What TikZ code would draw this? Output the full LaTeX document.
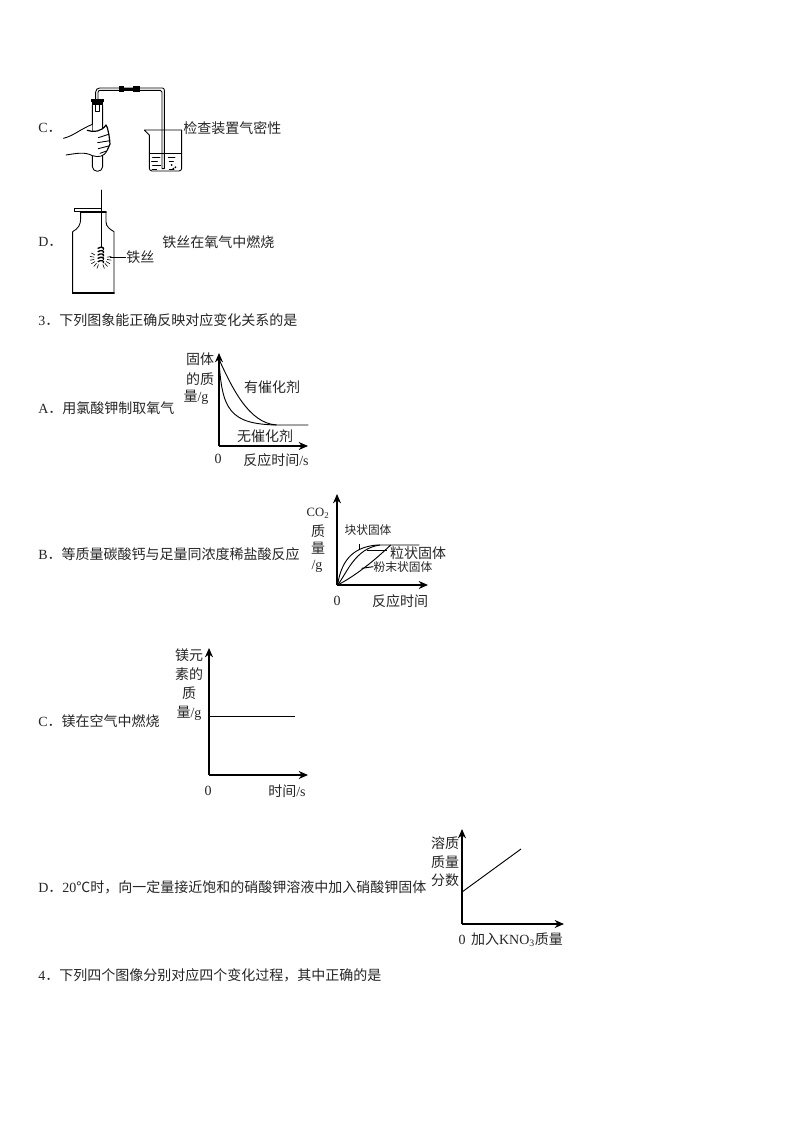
\documentclass[tikz,border=0pt]{standalone}
\usepackage{fontspec}
\setmainfont{Liberation Serif}
\newfontfamily\cjk{Noto Sans CJK SC}[Scale=1]
\newcommand{\lat}[1]{{\rmfamily #1}}
\usetikzlibrary{arrows.meta}
\tikzset{
  txt/.style={font=\cjk\fontsize{10.5pt}{12pt}\selectfont,inner sep=0pt,anchor=west,text=black!85},
  lab/.style={font=\cjk\fontsize{10.5pt}{12pt}\selectfont,inner sep=0pt,text=black!85},
  small/.style={font=\cjk\fontsize{8.8pt}{10pt}\selectfont,inner sep=0pt,text=black!85},
  axis/.style={line width=0.8pt,-{Stealth[length=7pt,width=6pt]}},
  curve/.style={line width=0.7pt},
  appar/.style={line width=0.65pt,line join=round,line cap=round},
  zoomA/.style={shift={(30,70)},x=0.25pt,y=-0.25pt},
  zoomB/.style={shift={(30,190)},x=0.25pt,y=-0.25pt},
  zoomC/.style={shift={(170,340)},x=0.25pt,y=-0.25pt},
  zoomD/.style={shift={(300,485)},x=0.25pt,y=-0.25pt}
}
\begin{document}
\begin{tikzpicture}[x=0.75pt,y=-0.75pt]
\useasboundingbox[fill=white] (0,0) rectangle (794,1123);
% body text
\node[txt] (optC) at (38,128) {\lat{C}．};
\node[txt] (capC) at (183,128) {检查装置气密性};
\node[txt] (optD) at (38,242) {\lat{D}．};
\node[txt] (capD) at (162,242) {铁丝在氧气中燃烧};
\node[txt] (wire) at (126,257) {铁丝};
\node[txt] (q3) at (38,320) {\lat{3}．下列图象能正确反映对应变化关系的是};
\node[txt] (a3) at (38,408) {\lat{A}．用氯酸钾制取氧气};
\node[txt] (b3) at (38,554) {\lat{B}．等质量碳酸钙与足量同浓度稀盐酸反应};
\node[txt] (c3) at (38,721) {\lat{C}．镁在空气中燃烧};
\node[txt] (d3) at (38,887) {\lat{D}．\lat{20}℃时，向一定量接近饱和的硝酸钾溶液中加入硝酸钾固体};
\node[txt] (q4) at (38,975) {\lat{4}．下列四个图像分别对应四个变化过程，其中正确的是};
% apparatus C
\begin{scope}[zoomA,appar]
  \draw (187,106) -- (187,290) arc[start angle=180,end angle=0,x radius=15.5,y radius=14] -- (218,106);
  \fill[black] (183,88) rectangle (222,96);
  \fill[black] (186,98) rectangle (219,106);
  \draw (187,96) -- (218,96);
  \draw (197,106) -- (197,125) -- (207,125) -- (207,106);
  \draw (197,88) -- (197,66) arc[start angle=180,end angle=270,radius=12] -- (397,54)
        arc[start angle=270,end angle=360,radius=6] -- (403,296) -- (396,296) -- (396,66)
        arc[start angle=0,end angle=-90,radius=5] -- (210,61)
        arc[start angle=-90,end angle=-180,radius=6] -- (204,88);
  \fill[black] (267,49) rectangle (283,66);
  \fill[black] (309,49) rectangle (331,66);
  \draw[line width=1.4pt] (283,57) -- (309,57);
  % beaker
  \draw (343,180) -- (358,195) -- (358,295) arc[start angle=180,end angle=90,radius=8] -- (447,303)
        arc[start angle=90,end angle=0,radius=8] -- (455,180) -- cycle;
  \draw (358,250) -- (455,250);
  \foreach \yy/\xa/\xb in {262/368/390,274/365/382,286/368/392,298/366/380,262/415/435,274/418/430,298/418/432}
    \draw (\xa,\yy) -- (\xb,\yy);
  \fill (425,285) circle (3); \fill (436,292) circle (3); \fill (430,296) circle (3);
  % hand
  \fill[white] (172,170) -- (187,163) -- (187,183) .. controls (200,186) and (218,184) .. (228,165) .. controls (235,175) and (233,185) .. (237,195) -- (240,222) -- (232,240) .. controls (222,262) and (205,262) .. (187,257) -- (172,250) -- cycle;
  \draw (100,205) .. controls (130,198) and (150,178) .. (187,163);
  \draw (108,255) .. controls (140,250) and (165,245) .. (187,257) .. controls (205,262) and (222,262) .. (232,240);
  \draw[line width=0.9pt] (172,181) .. controls (190,188) and (215,185) .. (228,165) .. controls (235,175) and (233,185) .. (237,195) -- (240,222) -- (232,240);
  \draw (205,203) -- (236,193);
  \draw (203,218) -- (240,212);
  \draw (205,236) -- (236,228);
  \draw (210,250) -- (230,243);
\end{scope}
% apparatus D
\begin{scope}[zoomB,appar]
  \draw (133,55) rectangle (215,65);
  \draw[line width=1.3pt] (152,67) -- (228,67);
  \draw (152,67) -- (152,85) .. controls (152,105) and (145,115) .. (128,125) -- (128,310);
  \draw (228,67) -- (228,95) .. controls (228,110) and (240,118) .. (252,125) -- (252,310);
  \draw[line width=1.2pt] (128,309) -- (252,309);
  \draw (213,0) -- (213,170);
  \foreach \yy in {172,182,192,202,212}
    \draw[line width=1pt] (204,\yy+3) .. controls (212,\yy-3) and (224,\yy) .. (220,\yy+6);
  \foreach \ang in {-10,10,30,50,70,110,130,150,170,190,210}
    \draw[line width=0.45pt] ({212+20*cos(\ang)},{205+20*sin(\ang)}) -- ({212+32*cos(\ang)},{205+32*sin(\ang)});
\end{scope}
\coordinate (wireL) at (110,257);
\draw[line width=0.6pt] (wireL) -- (wire.west);
% Chart A
\coordinate (oA) at (219,446);
\draw[axis] (oA) -- (219,353);
\draw[axis] (oA) -- (308,446);
\begin{scope}[zoomC,curve]
  \draw (147,58) .. controls (185,140) and (235,250) .. (320,255) -- (415,255);
  \draw (147,58) .. controls (155,210) and (180,252) .. (320,255);
\end{scope}
\node[lab] at (200,359) {固体};
\node[lab] at (200,379) {的质};
\node[lab] at (196,397) {量\lat{/g}};
\node[lab] (tA1) at (272,387) {有催化剂};
\node[lab] (tA2) at (265,436) {无催化剂};
\node[lab] at (218,459) {\lat{0}};
\node[lab] at (276,460) {反应时间\lat{/s}};
% Chart B
\coordinate (oB) at (337,585);
\draw[axis] (oB) -- (337,494);
\draw[axis] (oB) -- (428,585);
\begin{scope}[zoomD,curve]
  \draw (113,300) .. controls (125,215) and (170,185) .. (232,180) -- (358,180);
  \draw (113,300) .. controls (140,265) and (165,190) .. (240,180);
  \draw (113,300) .. controls (170,270) and (225,225) .. (272,180);
  \draw (178,192) -- (178,178);
  \draw (200,197) -- (262,197);
  \draw (185,250) -- (220,245);
\end{scope}
\node[font=\rmfamily\fontsize{9.5pt}{11pt}\selectfont,inner sep=0pt,text=black!85] at (318,513) {CO\textsubscript{2}};
\node[lab] at (318,531) {质};
\node[lab] at (318,548) {量};
\node[lab] at (317,566) {\lat{/g}};
\node[small] at (368,530) {块状固体};
\node[lab] at (418,553) {粒状固体};
\node[small] at (403,567) {粉末状固体};
\node[lab] at (337,601) {\lat{0}};
\node[lab] at (400,601) {反应时间};
% Chart C
\coordinate (oC) at (209,775);
\coordinate (lineCa) at (209,716);
\coordinate (lineCb) at (295,716);
\draw[axis] (oC) -- (209,648);
\draw[axis] (oC) -- (308,775);
\draw[curve] (lineCa) -- (lineCb);
\node[lab] at (189,655) {镁元};
\node[lab] at (189,674) {素的};
\node[lab] at (189,693) {质};
\node[lab] at (189,713) {量\lat{/g}};
\node[lab] at (208,791) {\lat{0}};
\node[lab] at (287,791) {时间\lat{/s}};
% Chart D
\coordinate (oD) at (462,924);
\coordinate (lineDa) at (462,892);
\coordinate (lineDb) at (521,849);
\draw[axis] (oD) -- (462,829);
\draw[axis] (oD) -- (564,924);
\draw[curve] (lineDa) -- (lineDb);
\node[lab] at (445,843) {溶质};
\node[lab] at (445,862) {质量};
\node[lab] at (445,880) {分数};
\node[lab] at (462,940) {\lat{0}};
\node[lab] at (517,940) {加入\lat{KNO\textsubscript{3}}质量};
\end{tikzpicture}
\end{document}
